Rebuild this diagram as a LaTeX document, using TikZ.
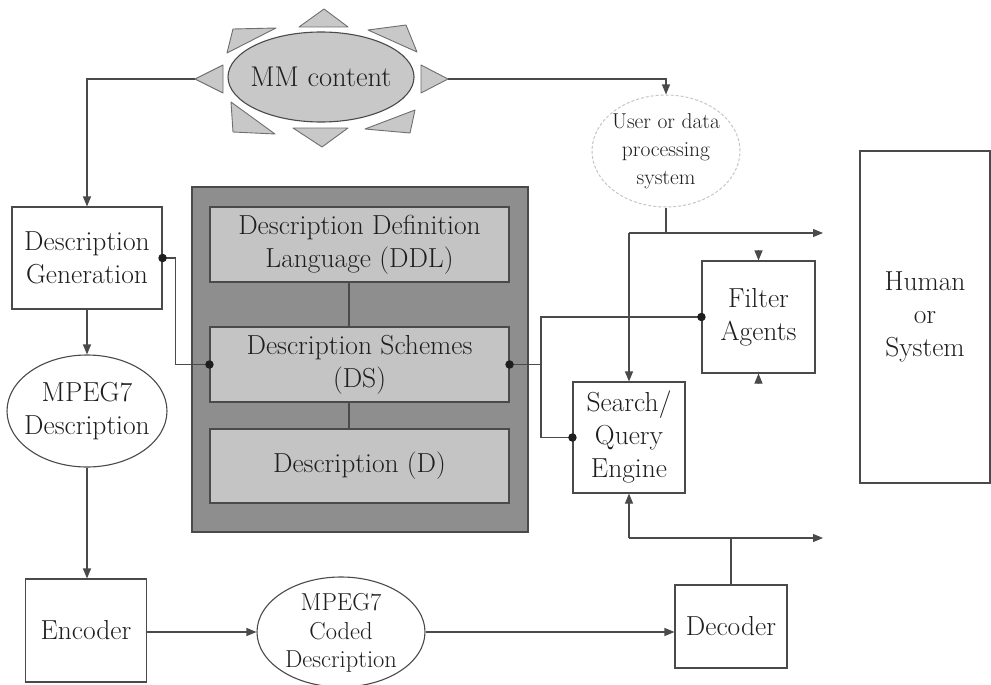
\documentclass[tikz,border=0pt]{standalone}
\usetikzlibrary{shapes.geometric,arrows.meta}
\definecolor{ink}{HTML}{4A4A4A}
\definecolor{txt}{HTML}{1E1E1E}
\definecolor{panel}{HTML}{8E8E8E}
\definecolor{layer}{HTML}{C4C4C4}
\definecolor{sunfill}{HTML}{C8C8C8}
\begin{document}
\begin{tikzpicture}[x=1pt,y=-1pt,
  every node/.style={text=txt, align=center, inner sep=0pt},
  bigtext/.style={font=\fontsize{27.5}{33}\selectfont},
  smalltext/.style={font=\fontsize{21.5}{28}\selectfont},
  midtext/.style={font=\fontsize{24.5}{28.5}\selectfont},
  box/.style={draw=ink, line width=1.1pt, fill=white, bigtext},
  layerbox/.style={draw=ink, line width=1.1pt, fill=layer, bigtext, minimum width=299pt, minimum height=75pt},
  oval/.style={ellipse, draw=ink, line width=1.1pt, fill=white},
  link/.style={draw=ink, line width=1.1pt},
  arr/.style={link, -{Triangle[length=10pt,width=8pt]}},
  joint/.style={circle, fill=txt, minimum size=8.5pt, inner sep=0pt},
  ray/.style={fill=sunfill, draw=ink!80, line width=0.9pt, line join=round},
]
\useasboundingbox (0,0) rectangle (991,685);

% ---- multimedia content with its rays ----
\filldraw[ray] (324,9) -- (299,27) -- (348,27) -- cycle;
\filldraw[ray] (195,79) -- (223,65) -- (223,93) -- cycle;
\filldraw[ray] (448,79) -- (421,65) -- (421,93) -- cycle;
\filldraw[ray] (322,147) -- (293,128) -- (348,128) -- cycle;
\filldraw[ray] (233,29) -- (276,28) -- (227,53) -- cycle;
\filldraw[ray] (368,30) -- (406,25) -- (417,52) -- cycle;
\filldraw[ray] (231,102) -- (275,134) -- (233,132) -- cycle;
\filldraw[ray] (365,129) -- (415,110) -- (410,133) -- cycle;
\node[ellipse, draw=ink, line width=1.1pt, fill=sunfill, minimum width=186pt, minimum height=90pt] (mm) at (321,77) {};
\node[font=\fontsize{28.5}{33}\selectfont] (mm-t) at (mm) {MM content};
\coordinate (mmL) at (195,79);
\coordinate (mmR) at (448,79);

% ---- user / processing system ----
\node[ellipse, draw=gray!45, densely dashed, line width=1pt, fill=white, minimum width=148pt, minimum height=112pt] (user) at (666,151) {};
\node[smalltext] (user-t) at (user) {User or data\\processing\\system};

% ---- left column ----
\node[box, minimum width=150pt, minimum height=102pt] (dg) at (87,258) {Description\\Generation};
\node[oval, minimum width=160pt, minimum height=112pt] (md) at (87,411) {};
\node[bigtext] (md-t) at (md) {MPEG7\\Description};
\node[box, minimum width=121pt, minimum height=103pt] (enc) at (86,630.5) {Encoder};

% ---- bottom row ----
\node[oval, minimum width=168pt, minimum height=110pt] (coded) at (341,632) {};
\node[midtext] (coded-t) at (341,633) {MPEG7\\Coded\\Description};
\node[box, minimum width=112pt, minimum height=83pt] (dec) at (731,626.5) {Decoder};

% ---- MPEG-7 standard layers ----
\node[draw=ink, line width=1.1pt, fill=panel, minimum width=336pt, minimum height=345pt] (std) at (360,359.5) {};
\node[layerbox] (ddl) at (359.5,244.5) {Description Definition\\Language (DDL)};
\node[layerbox] (ds) at (359.5,364.5) {Description Schemes\\(DS)};
\node[layerbox, minimum height=74pt] (d) at (359.5,466) {Description (D)};
\draw[link] ([xshift=-10.5pt]ddl.south) -- ([xshift=-10.5pt]ds.north);
\draw[link] ([xshift=-10.5pt]ds.south) -- ([xshift=-10.5pt]d.north);

% ---- right side ----
\node[box, minimum width=112pt, minimum height=111pt] (se) at (629,437.5) {Search/\\Query\\Engine};
\node[box, minimum width=113pt, minimum height=112pt] (fa) at (758.5,317) {Filter\\Agents};
\node[box, minimum width=130pt, minimum height=332pt] (hs) at (925,317) {Human\\or\\System};

% ---- connectors ----
\coordinate (outA) at (823,233);
\coordinate (outB) at (823,538);
\coordinate (j) at (541,364.5);

\draw[arr] (mmL) -| (dg.north);
\draw[arr] (mmR) -| (user.north);
\draw[arr] (dg.south) -- (md.north);
\draw[arr] (md.south) -- (md.south |- enc.north);
\draw[arr] (enc.east |- coded.west) -- (coded.west);
\draw[arr] (coded.east) -- (coded.east -| dec.west);

\draw[link] (user.south) -- (user.south |- outA);
\draw[arr] (outA -| se.north) -- (outA);
\draw[arr] (outA -| se.north) -- (se.north);

\draw[link] (dec.north) -- (dec.north |- outB);
\draw[arr] (outB -| se.south) -- (outB);
\draw[arr] (outB -| se.south) -- (se.south);

\draw[arr] ([yshift=10pt]fa.north) -- (fa.north);
\draw[arr] ([yshift=-10pt]fa.south) -- (fa.south);

\draw[link] (ds.west) -- ++(-34,0) |- (dg.east);
\draw[link] (ds.east) -- (j);
\draw[link] (fa.west) -| (j) |- (se.west);

\node[joint] (jdg) at (dg.east) {};
\node[joint] (jdsl) at (ds.west) {};
\node[joint] (jdsr) at (ds.east) {};
\node[joint] (jfa) at (fa.west) {};
\node[joint] (jse) at (se.west) {};
\end{tikzpicture}
\end{document}
